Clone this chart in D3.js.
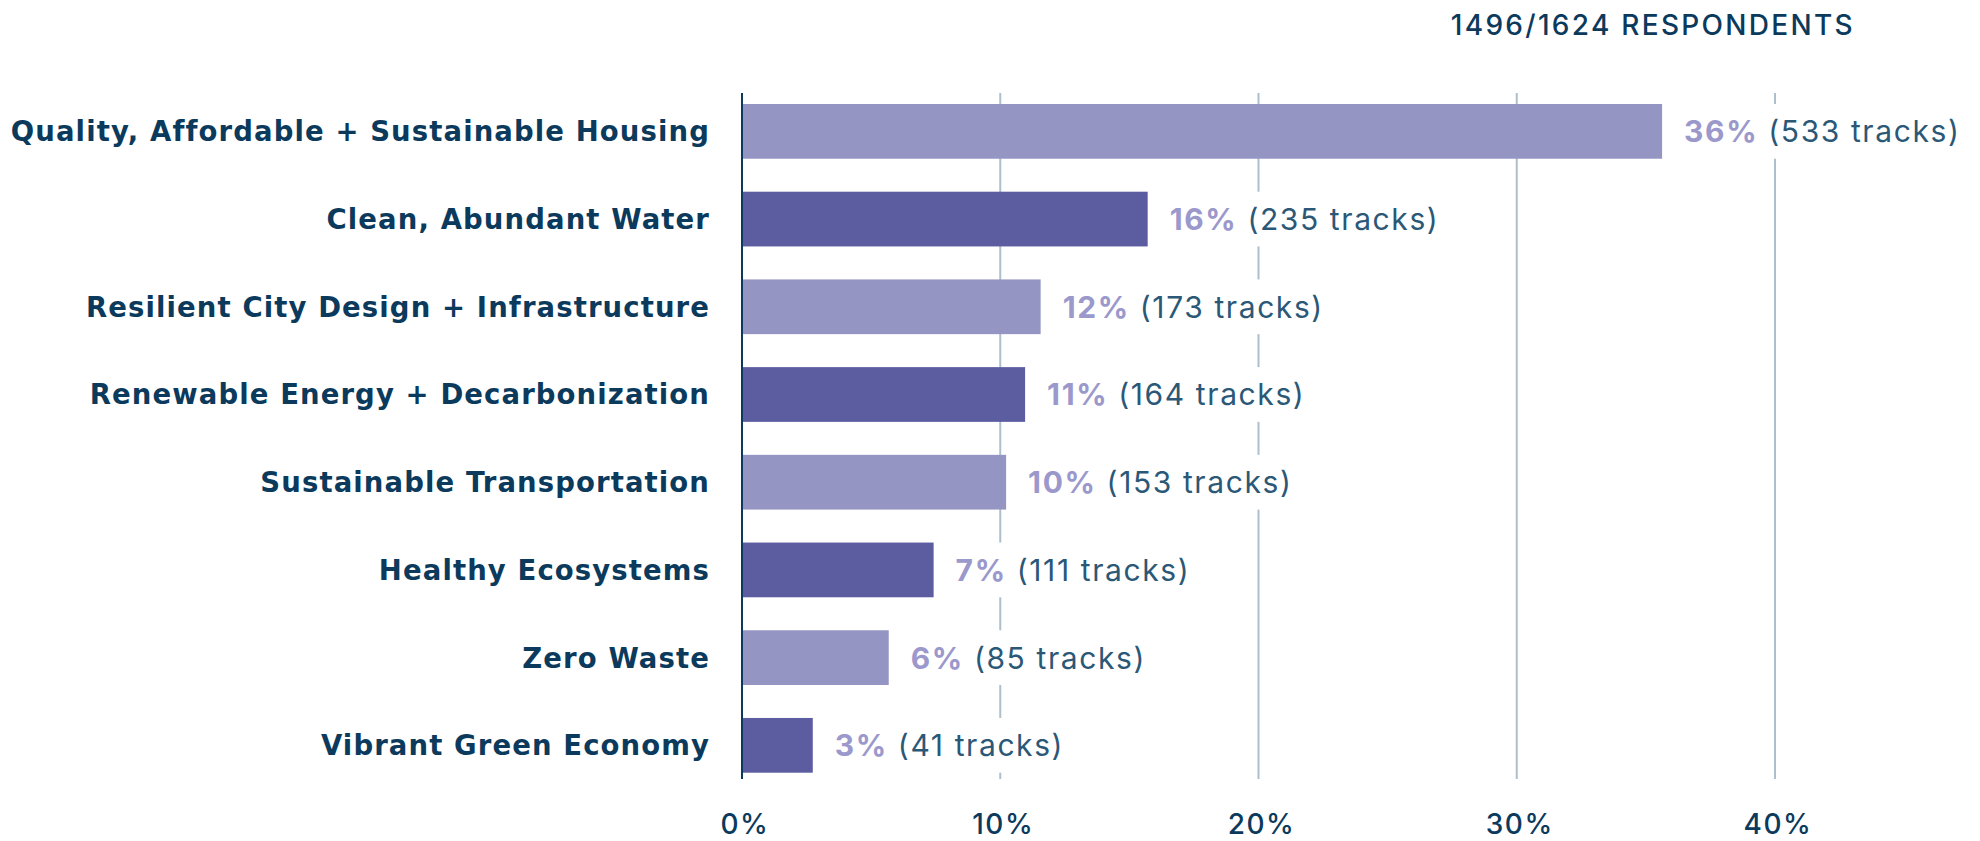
<!DOCTYPE html>
<html>
<head>
<meta charset="utf-8">
<script src="https://cdn.jsdelivr.net/npm/d3@7"></script>
<style>
  html, body { margin: 0; padding: 0; background: #ffffff; }
  svg { display: block; }
  text { font-family: Inter, "Noto Sans", sans-serif; }
</style>
</head>
<body>
<svg id="chart" width="1980" height="841"></svg>
<script>
// Focus areas chosen by respondents, with the number of tracks for each
const categories = [
  "Quality, Affordable + Sustainable Housing",
  "Clean, Abundant Water",
  "Resilient City Design + Infrastructure",
  "Renewable Energy + Decarbonization",
  "Sustainable Transportation",
  "Healthy Ecosystems",
  "Zero Waste",
  "Vibrant Green Economy"
];
const tracks = [533, 235, 173, 164, 153, 111, 85, 41];
const respondents = 1496;
const surveyed = 1624;
const xTicks = [0, 10, 20, 30, 40];

// Share of respondents for each category, in percent
const shares = tracks.map(t => t / respondents * 100);

const colors = { light: "#9595c4", dark: "#5c5ca0", pct: "#9b98cc",
                 navy: "#0b3a5c", tracksText: "#2b5877", grid: "#adbfcc" };

const svg = d3.select("#chart");

const x = d3.scaleLinear().domain([0, 40]).range([742, 1775]);
const y = d3.scaleBand().domain(categories).range([104, 772.7])
  .paddingInner(0.376).paddingOuter(0);

const gridTop = 93, gridBottom = 779;

// Vertical gridlines
svg.append("g").selectAll("line").data(xTicks.filter(d => d > 0)).join("line")
  .attr("x1", d => x(d)).attr("x2", d => x(d))
  .attr("y1", gridTop).attr("y2", gridBottom)
  .attr("stroke", colors.grid).attr("stroke-width", 2);

// Bars
svg.append("g").selectAll("rect").data(categories).join("rect")
  .attr("x", x(0))
  .attr("y", d => y(d))
  .attr("width", (d, i) => x(shares[i]) - x(0))
  .attr("height", y.bandwidth())
  .attr("fill", (d, i) => i % 2 === 0 ? colors.light : colors.dark);

// Value labels with a white backing that hides the gridlines behind them
const labelG = svg.append("g");
categories.forEach((c, i) => {
  const g = labelG.append("g");
  const bg = g.append("rect").attr("fill", "#ffffff");
  const cy = y(c) + y.bandwidth() / 2;
  const t = g.append("text")
    .attr("x", x(shares[i]) + 22)
    .attr("y", cy + 11)
    .attr("font-size", 30)
    .style("letter-spacing", "1.6px");
  t.append("tspan").attr("font-weight", 700).attr("fill", colors.pct)
    .text(Math.round(shares[i]) + "%");
  t.append("tspan").attr("font-weight", 400).attr("fill", colors.tracksText)
    .text(" (" + tracks[i] + " tracks)");
  const bb = t.node().getBBox();
  bg.attr("x", bb.x - 6).attr("width", bb.width + 12)
    .attr("y", y(c)).attr("height", y.bandwidth());
});

// Category labels
svg.append("g").selectAll("text").data(categories).join("text")
  .attr("x", 710)
  .attr("y", d => y(d) + y.bandwidth() / 2 + 10)
  .attr("text-anchor", "end")
  .attr("font-size", 27.5)
  .attr("font-weight", 700)
  .attr("fill", colors.navy)
  .style("font-family", "'DejaVu Sans', sans-serif")
  .style("letter-spacing", "1.1px")
  .text(d => d);

// Zero axis line
svg.append("line")
  .attr("x1", x(0)).attr("x2", x(0))
  .attr("y1", gridTop).attr("y2", gridBottom)
  .attr("stroke", colors.navy).attr("stroke-width", 2);

// Bottom tick labels
svg.append("g").selectAll("text").data(xTicks).join("text")
  .attr("x", d => x(d) + 3)
  .attr("y", 834)
  .attr("text-anchor", "middle")
  .attr("font-size", 28)
  .attr("font-weight", 500)
  .attr("fill", colors.navy)
  .style("letter-spacing", "1.5px")
  .text(d => d + "%");

// Respondent count heading
svg.append("text")
  .attr("x", 1855)
  .attr("y", 35)
  .attr("text-anchor", "end")
  .attr("font-size", 28)
  .attr("font-weight", 500)
  .attr("fill", colors.navy)
  .style("letter-spacing", "2.3px")
  .text(`${respondents}/${surveyed} RESPONDENTS`);
</script>
</body>
</html>
